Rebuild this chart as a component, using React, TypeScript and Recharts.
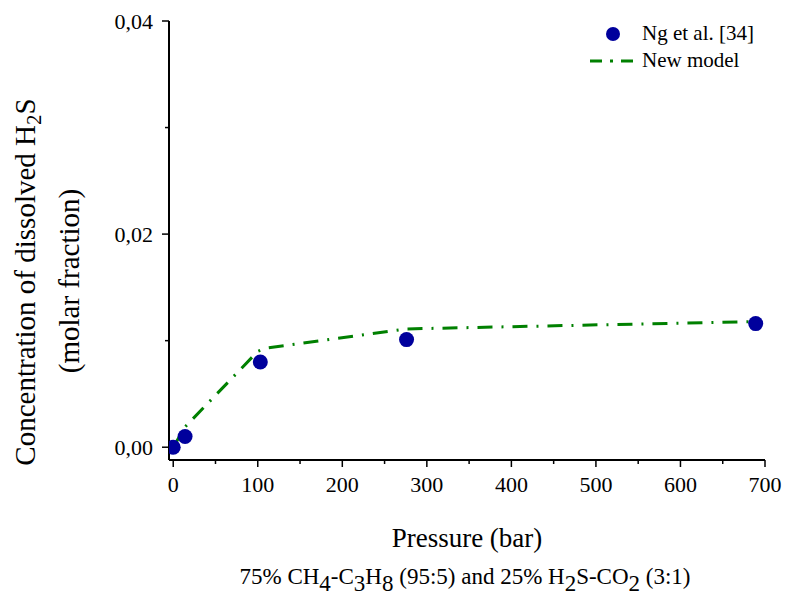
import { ComposedChart, Line, Scatter, XAxis, YAxis, Legend } from "recharts"

// Ng et al. [34] measurements: pressure (bar) vs dissolved H2S (molar fraction)
const expPressure = [0, 14, 103, 276, 689]
const expConc = [0.0, 0.001, 0.008, 0.0101, 0.0116]

// New model curve
const modelPressure = [0, 14, 100, 110, 276, 690]
const modelConc = [0.0, 0.0019, 0.0090, 0.0093, 0.0111, 0.0118]

const xTicks = [0, 50, 100, 150, 200, 250, 300, 350, 400, 450, 500, 550, 600, 650, 700]
const yTicks = [0, 0.01, 0.02, 0.03, 0.04]

const expData = expPressure.map((p, i) => ({ p, c: expConc[i] }))
const modelData = modelPressure.map((p, i) => ({ p, c: modelConc[i] }))

const FONT = "'Liberation Serif', 'Times New Roman', serif"
const BLUE = "#00009c"
const GREEN = "#008000"

const XTick = ({ x, y, payload }: any) => {
  const major = payload.value % 100 === 0
  return (
    <g>
      <line x1={x} x2={x} y1={y} y2={y + (major ? 7 : 4)} stroke="#000" strokeWidth={1.5} />
      {major && (
        <text x={x} y={y + 32} textAnchor="middle" fontFamily={FONT} fontSize={22} fill="#000">
          {payload.value}
        </text>
      )}
    </g>
  )
}

const YTick = ({ x, y, payload }: any) => {
  const major = Math.round(payload.value * 100) % 2 === 0
  return (
    <g>
      <line x1={x} x2={x - (major ? 7 : 4)} y1={y} y2={y} stroke="#000" strokeWidth={1.5} />
      {major && (
        <text x={x - 16} y={y} dy="0.35em" textAnchor="end" fontFamily={FONT} fontSize={22} fill="#000">
          {payload.value.toFixed(2).replace(".", ",")}
        </text>
      )}
    </g>
  )
}

const XTitle = ({ viewBox }: any) => {
  const cx = viewBox.x + viewBox.width / 2
  const y = viewBox.y
  return (
    <g fontFamily={FONT} fill="#000">
      <text x={cx} y={y + 87} textAnchor="middle" fontSize={27}>
        Pressure (bar)
      </text>
      <text x={cx - 2} y={y + 124} textAnchor="middle" fontSize={23}>
        <tspan>75% CH</tspan>
        <tspan dy={7}>4</tspan>
        <tspan dy={-7}>-C</tspan>
        <tspan dy={7}>3</tspan>
        <tspan dy={-7}>H</tspan>
        <tspan dy={7}>8</tspan>
        <tspan dy={-7}> (95:5) and 25% H</tspan>
        <tspan dy={7}>2</tspan>
        <tspan dy={-7}>S-CO</tspan>
        <tspan dy={7}>2</tspan>
        <tspan dy={-7}> (3:1)</tspan>
      </text>
    </g>
  )
}

const YTitle = () => (
  <g fontFamily={FONT} fill="#000" fontSize={29}>
    <text x={35} y={282} transform="rotate(-90 35 282)" textAnchor="middle">
      <tspan>Concentration of dissolved H</tspan>
      <tspan dy={6} fontSize={21}>2</tspan>
      <tspan dy={-6}>S</tspan>
    </text>
    <text x={79} y={281} transform="rotate(-90 79 281)" textAnchor="middle">
      (molar fraction)
    </text>
  </g>
)

const LegendBox = () => (
  <div style={{ fontFamily: FONT, fontSize: 21, color: "#000", lineHeight: 1 }}>
    <div style={{ display: "flex", alignItems: "center", height: 27 }}>
      <svg width={54} height={20}>
        <circle cx={25} cy={10} r={7} fill={BLUE} />
      </svg>
      <span>Ng et al. [34]</span>
    </div>
    <div style={{ display: "flex", alignItems: "center", height: 27 }}>
      <svg width={54} height={20}>
        <line x1={2} x2={49} y1={10} y2={10} stroke={GREEN} strokeWidth={3} strokeDasharray="12 8 3 8" />
      </svg>
      <span>New model</span>
    </div>
  </div>
)

export default function App() {
  return (
    <div style={{ position: "absolute", left: 0, top: 0, background: "#fff" }}>
      <ComposedChart width={786} height={597} margin={{ top: 21, right: 21, bottom: 107, left: 0 }}>
        <XAxis
          dataKey="p"
          type="number"
          domain={[-5, 700]}
          ticks={xTicks}
          interval={0}
          allowDataOverflow
          height={30}
          tickSize={0}
          tickMargin={0}
          tickLine={false}
          tick={<XTick />}
          axisLine={{ stroke: "#000", strokeWidth: 2 }}
          label={{ content: (props: any) => <XTitle {...props} /> }}
        />
        <YAxis
          dataKey="c"
          type="number"
          domain={[-0.0012, 0.04]}
          ticks={yTicks}
          interval={0}
          allowDataOverflow
          width={169}
          tickSize={0}
          tickMargin={0}
          tickLine={false}
          tick={<YTick />}
          axisLine={{ stroke: "#000", strokeWidth: 2 }}
          label={{ content: () => <YTitle /> }}
        />
        <Legend
          layout="horizontal"
          verticalAlign="middle"
          align="center"
          wrapperStyle={{ top: 20, left: 588, width: 195 }}
          content={() => <LegendBox />}
        />
        <Line
          data={modelData}
          dataKey="c"
          name="New model"
          stroke={GREEN}
          strokeWidth={3}
          strokeDasharray="15 9 2 9"
          dot={false}
          activeDot={false}
          isAnimationActive={false}
        />
        <Scatter
          data={expData}
          dataKey="c"
          name="Ng et al. [34]"
          fill={BLUE}
          shape={(props: any) => <circle cx={props.cx} cy={props.cy} r={7.5} fill={BLUE} />}
          isAnimationActive={false}
        />
      </ComposedChart>
    </div>
  )
}
